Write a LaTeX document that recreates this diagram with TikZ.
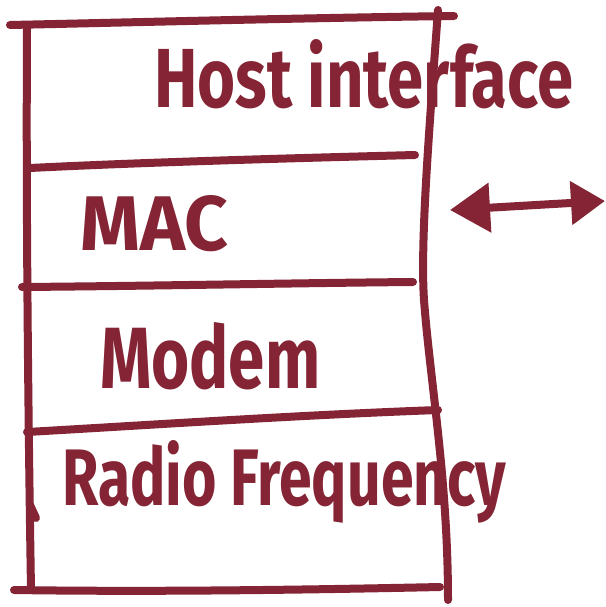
\documentclass[tikz,border=0pt]{standalone}
\usepackage{fontspec}
\setmainfont{Fira Sans}
\usetikzlibrary{arrows.meta}
\definecolor{ink}{RGB}{132,36,52}
\tikzset{
  pen/.style={draw=ink, line width=8pt, line cap=round, line join=round},
  lbl/.style={inner sep=0pt, anchor=base west, text=ink, font=\bfseries},
}
\begin{document}
\begin{tikzpicture}[x=1pt,y=-1pt]
\useasboundingbox[fill=white] (0,0) rectangle (605,607);
% outer frame
\draw[pen] (10,25) .. controls (150,22) and (300,18) .. (454,16);
\draw[pen] (27,28) .. controls (26,200) and (28,400) .. (31,590);
\draw[pen] (30,505) -- (36,518);
\draw[pen] (438,10) .. controls (430,120) and (420,240) .. (424,300)
                     .. controls (430,380) and (448,480) .. (448,600);
\draw[pen] (14,590) .. controls (150,592) and (300,590) .. (440,587);
% dividers
\draw[pen] (30,168) .. controls (150,162) and (300,158) .. (415,155);
\draw[pen] (22,287) .. controls (150,286) and (300,283) .. (413,282);
\draw[pen] (27,432) .. controls (150,425) and (300,415) .. (438,410);
% labels
\node[lbl] (host) at (154,108) {\resizebox{419pt}{68pt}{Host interface}};
\node[lbl] (mac) at (80,250) {\resizebox{148pt}{55pt}{MAC}};
\node[lbl] (modem) at (100,388) {\resizebox{220pt}{66pt}{Modem}};
\node[lbl] (rf) at (62,505) {\resizebox{444pt}{65pt}{Radio Frequency}};
% double arrow
\coordinate (al) at (450,210);
\coordinate (ar) at (605,201);
\draw[pen, {Triangle[length=40pt,width=48pt]}-{Triangle[length=34pt,width=42pt]}] (al) -- (ar);
\end{tikzpicture}
\end{document}
